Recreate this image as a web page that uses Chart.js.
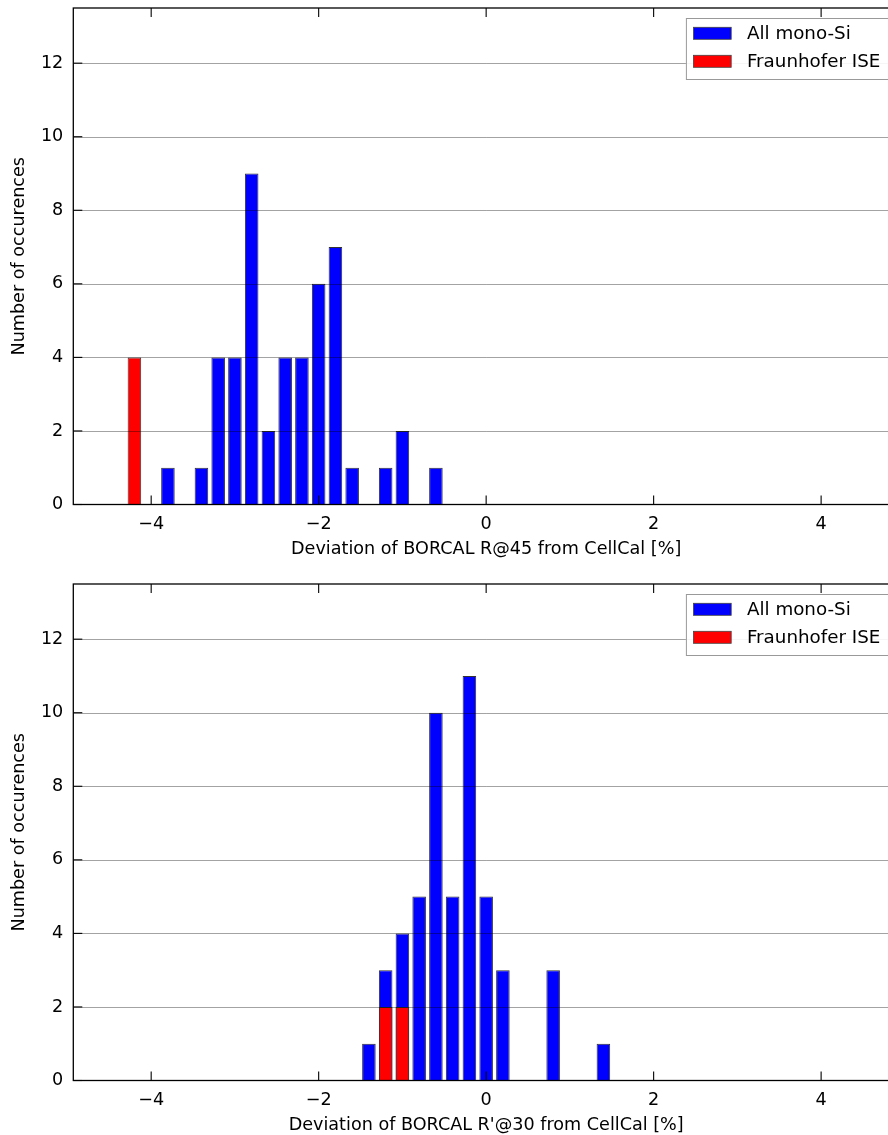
<!DOCTYPE html>
<html><head><meta charset="utf-8">
<script src="https://cdn.jsdelivr.net/npm/chart.js@4/dist/chart.umd.min.js"></script>
<style>
html,body{margin:0;padding:0;background:#fff;overflow:hidden;width:888px;height:1135px;position:relative}
.box{position:absolute;left:0;width:900px;height:565px}
canvas{display:block}
</style></head><body>
<div class="box" style="top:0"><canvas id="c1"></canvas></div>
<div class="box" style="top:576px"><canvas id="c2"></canvas></div>
<script>
// ---- data ----
const seriesNames = ["All mono-Si", "Fraunhofer ISE"];
const topAllX      = [-3.8, -3.4, -3.2, -3.0, -2.8, -2.6, -2.4, -2.2, -2.0, -1.8, -1.6, -1.2, -1.0, -0.6];
const topAllCounts = [1, 1, 4, 4, 9, 2, 4, 4, 6, 7, 1, 1, 2, 1];
const topIseX      = [-4.2];
const topIseCounts = [4];
const botAllX      = [-1.4, -1.2, -1.0, -0.8, -0.6, -0.4, -0.2, 0.0, 0.2, 0.8, 1.4];
const botAllCounts = [1, 3, 4, 5, 10, 5, 11, 5, 3, 3, 1];
const botIseX      = [-1.2, -1.0];
const botIseCounts = [2, 2];
const xTitles = ["Deviation of BORCAL R@45 from CellCal [%]", "Deviation of BORCAL R'@30 from CellCal [%]"];
const yTitle = "Number of occurences";
const xRange = [-4.93, 4.93];
const yRange = [0, 13.5];

const FONT = "'DejaVu Sans', sans-serif";
const FS = 17.6;
const LFS = 18.3;

const frame = {
  id: 'frame',
  afterDatasetsDraw(chart) {
    const {ctx, chartArea: a, scales: {x, y}} = chart;
    const line = (x1, y1, x2, y2) => { ctx.beginPath(); ctx.moveTo(x1, y1); ctx.lineTo(x2, y2); ctx.stroke(); };
    ctx.save();
    ctx.strokeStyle = 'rgba(0,0,0,0.36)';
    ctx.lineWidth = 1;
    y.ticks.forEach(t => {
      if (t.value === 0) return;
      const py = Math.round(y.getPixelForValue(t.value)) + 0.5;
      line(a.left, py, a.right, py);
    });
    ctx.strokeStyle = '#000';
    ctx.lineWidth = 1.3;
    ctx.strokeRect(a.left, a.top, a.right - a.left, a.bottom - a.top);
    ctx.lineWidth = 1.1;
    const L = 9;
    x.ticks.forEach(t => {
      const px = x.getPixelForValue(t.value);
      line(px, a.bottom, px, a.bottom - L);
      line(px, a.top, px, a.top + L);
    });
    y.ticks.forEach(t => {
      const py = y.getPixelForValue(t.value);
      line(a.left, py, a.left + L, py);
      line(a.right, py, a.right - L, py);
    });
    ctx.restore();
  },
  afterDraw(chart) {
    const {ctx, chartArea: a} = chart;
    const bx = a.left + 612.6, by = a.top + 10, bw = 240, bh = 61;
    ctx.save();
    ctx.fillStyle = 'rgba(255,255,255,0.9)';
    ctx.fillRect(bx, by, bw, bh);
    ctx.strokeStyle = '#999';
    ctx.lineWidth = 1;
    ctx.strokeRect(bx + 0.5, by + 0.5, bw, bh);
    const ds = chart.data.datasets;
    [0, 1].forEach((i, r) => {
      const d = ds[i];
      const cy = by + 15.3 + r * 28;
      ctx.fillStyle = d.backgroundColor;
      ctx.fillRect(bx + 7.6, cy - 6, 37.7, 12);
      ctx.strokeStyle = '#444';
      ctx.lineWidth = 0.8;
      ctx.strokeRect(bx + 7.6, cy - 6, 37.7, 12);
      ctx.fillStyle = '#000';
      ctx.font = LFS + 'px ' + FONT;
      ctx.textBaseline = 'middle';
      ctx.textAlign = 'left';
      ctx.fillText(d.label, bx + 61, cy + 1);
    });
    ctx.restore();
  }
};

function makeChart(id, allX, allC, iseX, iseC, xTitle) {
  const allData = allX.map((v, i) => ({x: v, y: allC[i]}));
  const iseData = iseX.map((v, i) => ({x: v, y: iseC[i]}));
  return new Chart(document.getElementById(id), {
    type: 'bar',
    data: {
      datasets: [
        {label: seriesNames[0], data: allData, backgroundColor: '#0000ff', borderColor: '#333', borderWidth: 1, order: 1},
        {label: seriesNames[1], data: iseData, backgroundColor: '#ff0000', borderColor: '#333', borderWidth: 1, order: 0}
      ]
    },
    options: {
      responsive: true,
      maintainAspectRatio: false,
      animation: false,
      grouped: false,
      categoryPercentage: 1,
      barPercentage: 0.81,
      layout: {padding: {top: 8, right: 1, left: 0, bottom: 0}},
      plugins: {legend: {display: false}, tooltip: {enabled: false}},
      scales: {
        x: {
          type: 'linear',
          min: xRange[0], max: xRange[1],
          offset: false,
          grid: {display: false, drawTicks: false, offset: false},
          border: {display: false},
          ticks: {
            stepSize: 2, includeBounds: false, padding: 9, color: '#000', maxRotation: 0,
            font: {family: FONT, size: FS},
            callback: v => String(v).replace('-', '\u2212')
          },
          title: {display: true, text: xTitle, color: '#000', font: {family: FONT, size: FS}, padding: {top: 0, bottom: 5}},
          afterFit: s => { s.height = 60.5; s.paddingLeft = 0; s.paddingRight = 0; }
        },
        y: {
          type: 'linear',
          min: yRange[0], max: yRange[1],
          grid: {display: false, drawTicks: false},
          border: {display: false},
          ticks: {
            stepSize: 2, includeBounds: false, padding: 10, color: '#000',
            font: {family: FONT, size: FS}
          },
          title: {display: true, text: yTitle, color: '#000', font: {family: FONT, size: FS}, padding: {top: 9, bottom: 0}},
          afterFit: s => { s.width = 73.3; s.paddingTop = 0; s.paddingBottom = 0; }
        }
      }
    },
    plugins: [frame]
  });
}

makeChart('c1', topAllX, topAllCounts, topIseX, topIseCounts, xTitles[0]);
makeChart('c2', botAllX, botAllCounts, botIseX, botIseCounts, xTitles[1]);
</script>
</body></html>
